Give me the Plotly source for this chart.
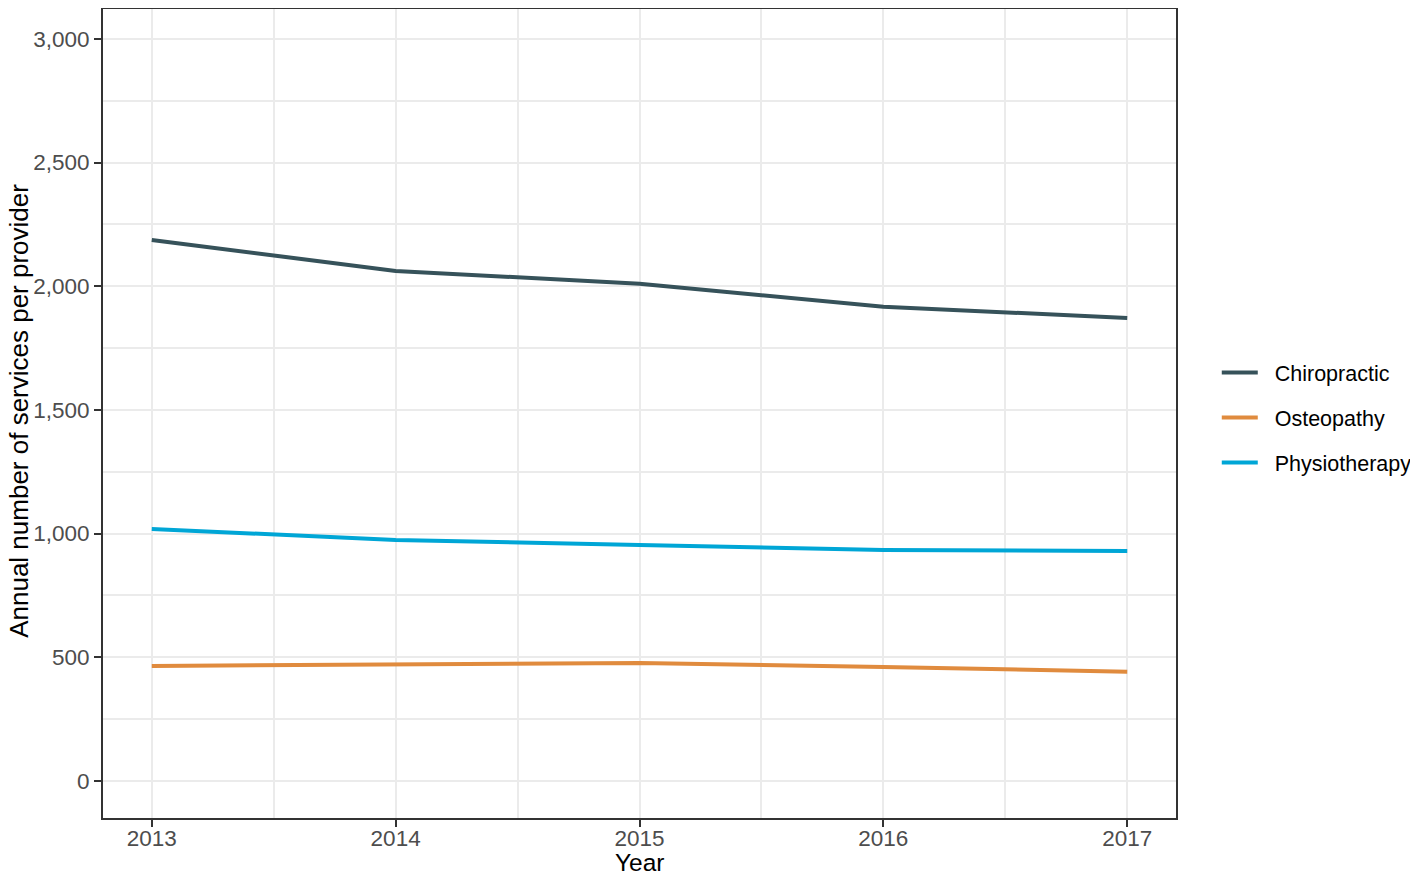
import plotly.graph_objects as go

# data
years = [2013, 2014, 2015, 2016, 2017]
chiropractic = [2187, 2062, 2010, 1917, 1872]
osteopathy = [465, 469, 477, 461, 441]
physiotherapy = [1019, 974, 954, 934, 930]

series = [
    ("Chiropractic", chiropractic, "#36525A"),
    ("Osteopathy", osteopathy, "#E08B3E"),
    ("Physiotherapy", physiotherapy, "#00A6D6"),
]

fig = go.Figure()
for name, vals, col in series:
    # small leading gap so legend text sits further from its key, as in the original
    fig.add_trace(go.Scatter(x=years, y=vals, mode="lines", name="\u00a0\u00a0" + name,
                             legendgroup=name,
                             line=dict(color=col, width=4)))

axis_common = dict(showline=True, linecolor="#333333", linewidth=2, mirror=True,
                   ticks="outside", ticklen=7, tickwidth=2, tickcolor="#333333",
                   gridcolor="#EBEBEB", gridwidth=2, zeroline=False,
                   tickfont=dict(size=22.5, color="#4D4D4D"))

fig.update_xaxes(range=[2012.8, 2017.2], tickvals=years,
                 minor=dict(dtick=0.5, tick0=2013, showgrid=True, gridcolor="#EBEBEB", gridwidth=1.5),
                 ticklabelstandoff=-8,
                 **axis_common)
fig.update_yaxes(range=[-150, 3121], tickvals=[0, 500, 1000, 1500, 2000, 2500, 3000],
                 tickformat=",",
                 minor=dict(dtick=250, tick0=0, showgrid=True, gridcolor="#EBEBEB", gridwidth=1.5),
                 **axis_common)

# axis titles
fig.add_annotation(text="Year", xref="paper", yref="paper", x=0.5, y=-0.0555,
                   xanchor="center", yanchor="middle", showarrow=False,
                   font=dict(size=24.5, color="black"))
fig.add_annotation(text="Annual number of services per provider", xref="paper", yref="paper",
                   x=-0.0785, y=0.503, xanchor="center", yanchor="middle", textangle=-90,
                   showarrow=False, font=dict(size=26, color="black"))

fig.update_layout(width=1402, height=864,
                  margin=dict(l=95, r=234, t=1, b=54, autoexpand=False),
                  plot_bgcolor="white", paper_bgcolor="white",
                  font=dict(family="Liberation Sans, Arial, sans-serif"),
                  legend=dict(x=1.038, xanchor="left", y=0.495, yanchor="middle",
                              font=dict(size=21.5, color="black"),
                              tracegroupgap=14, itemwidth=36))

fig.write_html("out.html")
